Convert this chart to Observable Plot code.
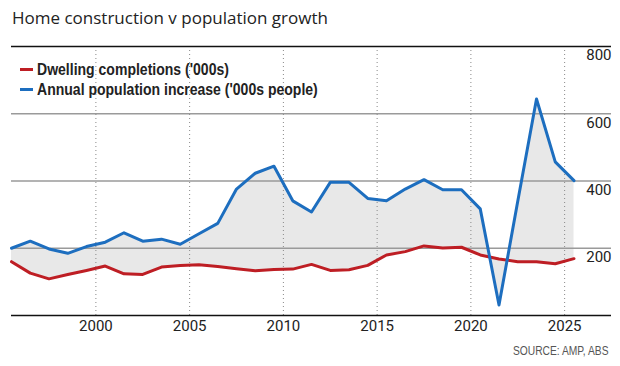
<!DOCTYPE html>
<html><head><meta charset="utf-8">
<script src="https://cdn.jsdelivr.net/npm/d3@7"></script>
<script src="https://cdn.jsdelivr.net/npm/@observablehq/plot@0.6"></script>
<style>
body{margin:0;background:#fff;font-family:Roboto,sans-serif;}
#wrap{position:relative;width:620px;height:366px;background:#fff;}
#title{height:36px;line-height:36px;padding-left:12px;font-family:"Open Sans",sans-serif;font-size:17px;color:#222;font-weight:400;white-space:nowrap}
#legend{position:absolute;left:20px;top:59px;font-family:"Liberation Sans",Arial,sans-serif;font-weight:bold;font-size:16.5px;color:#222}
.row{display:flex;align-items:center;height:20px;white-space:nowrap}
.sw{width:13px;height:3px;margin-right:4px;flex:none}
.row span{display:inline-block;transform:scaleX(0.85);transform-origin:left center}
#source{position:absolute;left:513px;top:342px;font-family:"Liberation Sans",Arial,sans-serif;font-size:12.5px;color:#555;line-height:18px;white-space:nowrap;transform:scaleX(0.82);transform-origin:left center}
</style>
</head><body>
<div id="wrap">
<div id="title"></div>
<div id="chart"></div>
<div id="legend"></div>
<div id="source"></div>
</div>
<script>
const titleText = "Home construction v population growth";
const sourceText = "SOURCE: AMP, ABS";
const seriesNames = ["Dwelling completions ('000s)", "Annual population increase ('000s people)"];
const seriesColors = ["#be1e24", "#1d6ebf"];
const years = [1995,1996,1997,1998,1999,2000,2001,2002,2003,2004,2005,2006,2007,2008,2009,2010,2011,2012,2013,2014,2015,2016,2017,2018,2019,2020,2021,2022,2023,2024,2025];
const dwellings = [160,126,109,122,134,147,124,122,144,149,151,146,139,133,137,138,152,134,136,149,180,190,207,201,203,180,168,160,160,154,169];
const population = [200,221,198,185,205,218,246,221,227,212,243,274,376,423,444,341,308,396,396,348,341,376,404,374,374,317,31,340,644,457,401];
const xTicks = [2000,2005,2010,2015,2020,2025];
const yTicks = [200,400,600,800];

const rows = years.map((y,i)=>({t:y+0.5, red:dwellings[i], blue:population[i]}));

document.getElementById("title").textContent = titleText;
document.getElementById("source").textContent = sourceText;
const leg = document.getElementById("legend");
seriesNames.forEach((n,i)=>{
  const r = document.createElement("div"); r.className="row";
  const s = document.createElement("div"); s.className="sw"; s.style.background=seriesColors[i];
  const t = document.createElement("span"); t.textContent=n;
  r.appendChild(s); r.appendChild(t); leg.appendChild(r);
});

const chart = Plot.plot({
  width:620, height:304, marginTop:10, marginBottom:25, marginLeft:11, marginRight:9,
  x:{domain:[1995.5,2027.5], label:null},
  y:{domain:[0,800], axis:null},
  style:{fontFamily:"Roboto", fontSize:"15px", color:"#222", background:"white"},
  marks:[
    Plot.areaY(rows,{x:"t", y1:"red", y2:"blue", fill:"#e8e8e8"}),
    Plot.ruleY(yTicks.slice(0,3),{stroke:"#9a9a9a", strokeWidth:1.5}),
    Plot.ruleX(xTicks,{stroke:"#888", strokeDasharray:"1,3", strokeWidth:1}),
    Plot.ruleY([0,800],{stroke:"#111", strokeWidth:1.5}),
    Plot.lineY(rows,{x:"t", y:"red", stroke:seriesColors[0], strokeWidth:3}),
    Plot.lineY(rows,{x:"t", y:"blue", stroke:seriesColors[1], strokeWidth:3}),
    Plot.text(yTicks,{y:d=>d, text:d=>String(d), frameAnchor:"right", textAnchor:"end", dy:9, fill:"#222"}),
    Plot.axisX(xTicks,{tickSize:0, tickPadding:5, tickFormat:d=>String(d), label:null})
  ]
});
document.getElementById("chart").appendChild(chart);
</script>
</body></html>
